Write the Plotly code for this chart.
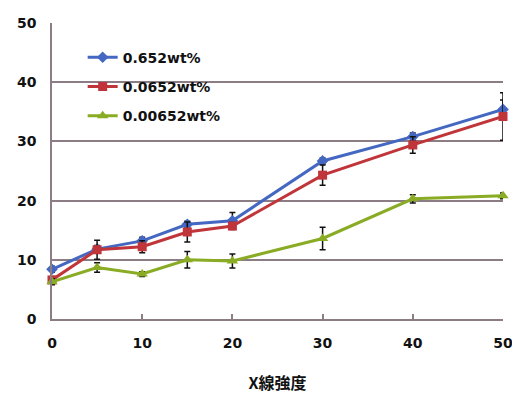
import plotly.graph_objects as go

# X-ray intensity levels
x_vals = [0, 5, 10, 15, 20, 30, 40, 50]

series_names = ["0.652wt%", "0.0652wt%", "0.00652wt%"]

y_high = [8.4, 11.8, 13.2, 16.0, 16.6, 26.7, 30.8, 35.4]
y_mid = [6.6, 11.7, 12.2, 14.7, 15.7, 24.3, 29.4, 34.2]
y_low = [6.3, 8.7, 7.6, 10.0, 9.8, 13.6, 20.3, 20.8]

err_high = [0.5, 0.6, 0.6, 0.5, 1.4, 0.5, 0.6, 1.6]
err_mid = [0.6, 1.6, 1.0, 1.7, 0.6, 1.7, 1.4, 4.0]
err_low = [0.5, 0.8, 0.4, 1.4, 1.2, 1.9, 0.7, 0.5]

colors = ["#4468c2", "#c0353a", "#8aab24"]
symbols = ["diamond", "square", "triangle-up"]
marker_sizes = [9, 9, 10]

fig = go.Figure()
for name, ys, errs, col, sym, ms in zip(
    series_names, [y_high, y_mid, y_low], [err_high, err_mid, err_low],
    colors, symbols, marker_sizes,
):
    fig.add_trace(go.Scatter(
        x=x_vals, y=ys, name=name, legendgroup=name,
        mode="lines+markers",
        line=dict(color=col, width=3),
        marker=dict(symbol=sym, size=ms, color=col),
        error_y=dict(type="data", array=errs, visible=True,
                     color="#111111", thickness=1.5, width=3),
        cliponaxis=False,
    ))

axis_col = "#8c7c84"
font_family = "'DejaVu Sans', sans-serif"

fig.update_layout(
    width=512, height=396,
    margin=dict(l=52, r=9, t=23, b=77),
    paper_bgcolor="white", plot_bgcolor="white",
    font=dict(family=font_family, color="#111111"),
    showlegend=True,
    legend=dict(
        x=0.068, y=0.937, xanchor="left", yanchor="top",
        bgcolor="rgba(0,0,0,0)",
        font=dict(size=14, family=font_family, color="#111111", weight="bold"),
        traceorder="grouped", tracegroupgap=8, itemwidth=30,
    ),
    xaxis=dict(
        range=[0, 50], tickvals=[0, 10, 20, 30, 40, 50],
        automargin=False, ticklabeloverflow="allow",
        showgrid=False, zeroline=False,
        showline=True, linecolor=axis_col, linewidth=1.5,
        ticks="inside", ticklen=5, tickcolor=axis_col, tickwidth=1.5,
        tickfont=dict(size=14, family=font_family, weight="bold"),
        ticklabelstandoff=10,
        title=dict(text="X線強度", standoff=28,
                   font=dict(size=16, family="'Noto Sans CJK JP', sans-serif", weight="bold")),
    ),
    yaxis=dict(
        range=[0, 50], tickvals=[0, 10, 20, 30, 40, 50],
        automargin=False,
        showgrid=True, gridcolor=axis_col, gridwidth=1.5,
        zeroline=False,
        showline=True, linecolor=axis_col, linewidth=1.5,
        ticks="", ticklabelstandoff=11,
        tickfont=dict(size=14, family=font_family, weight="bold"),
    ),
)

fig.write_html("out.html")
